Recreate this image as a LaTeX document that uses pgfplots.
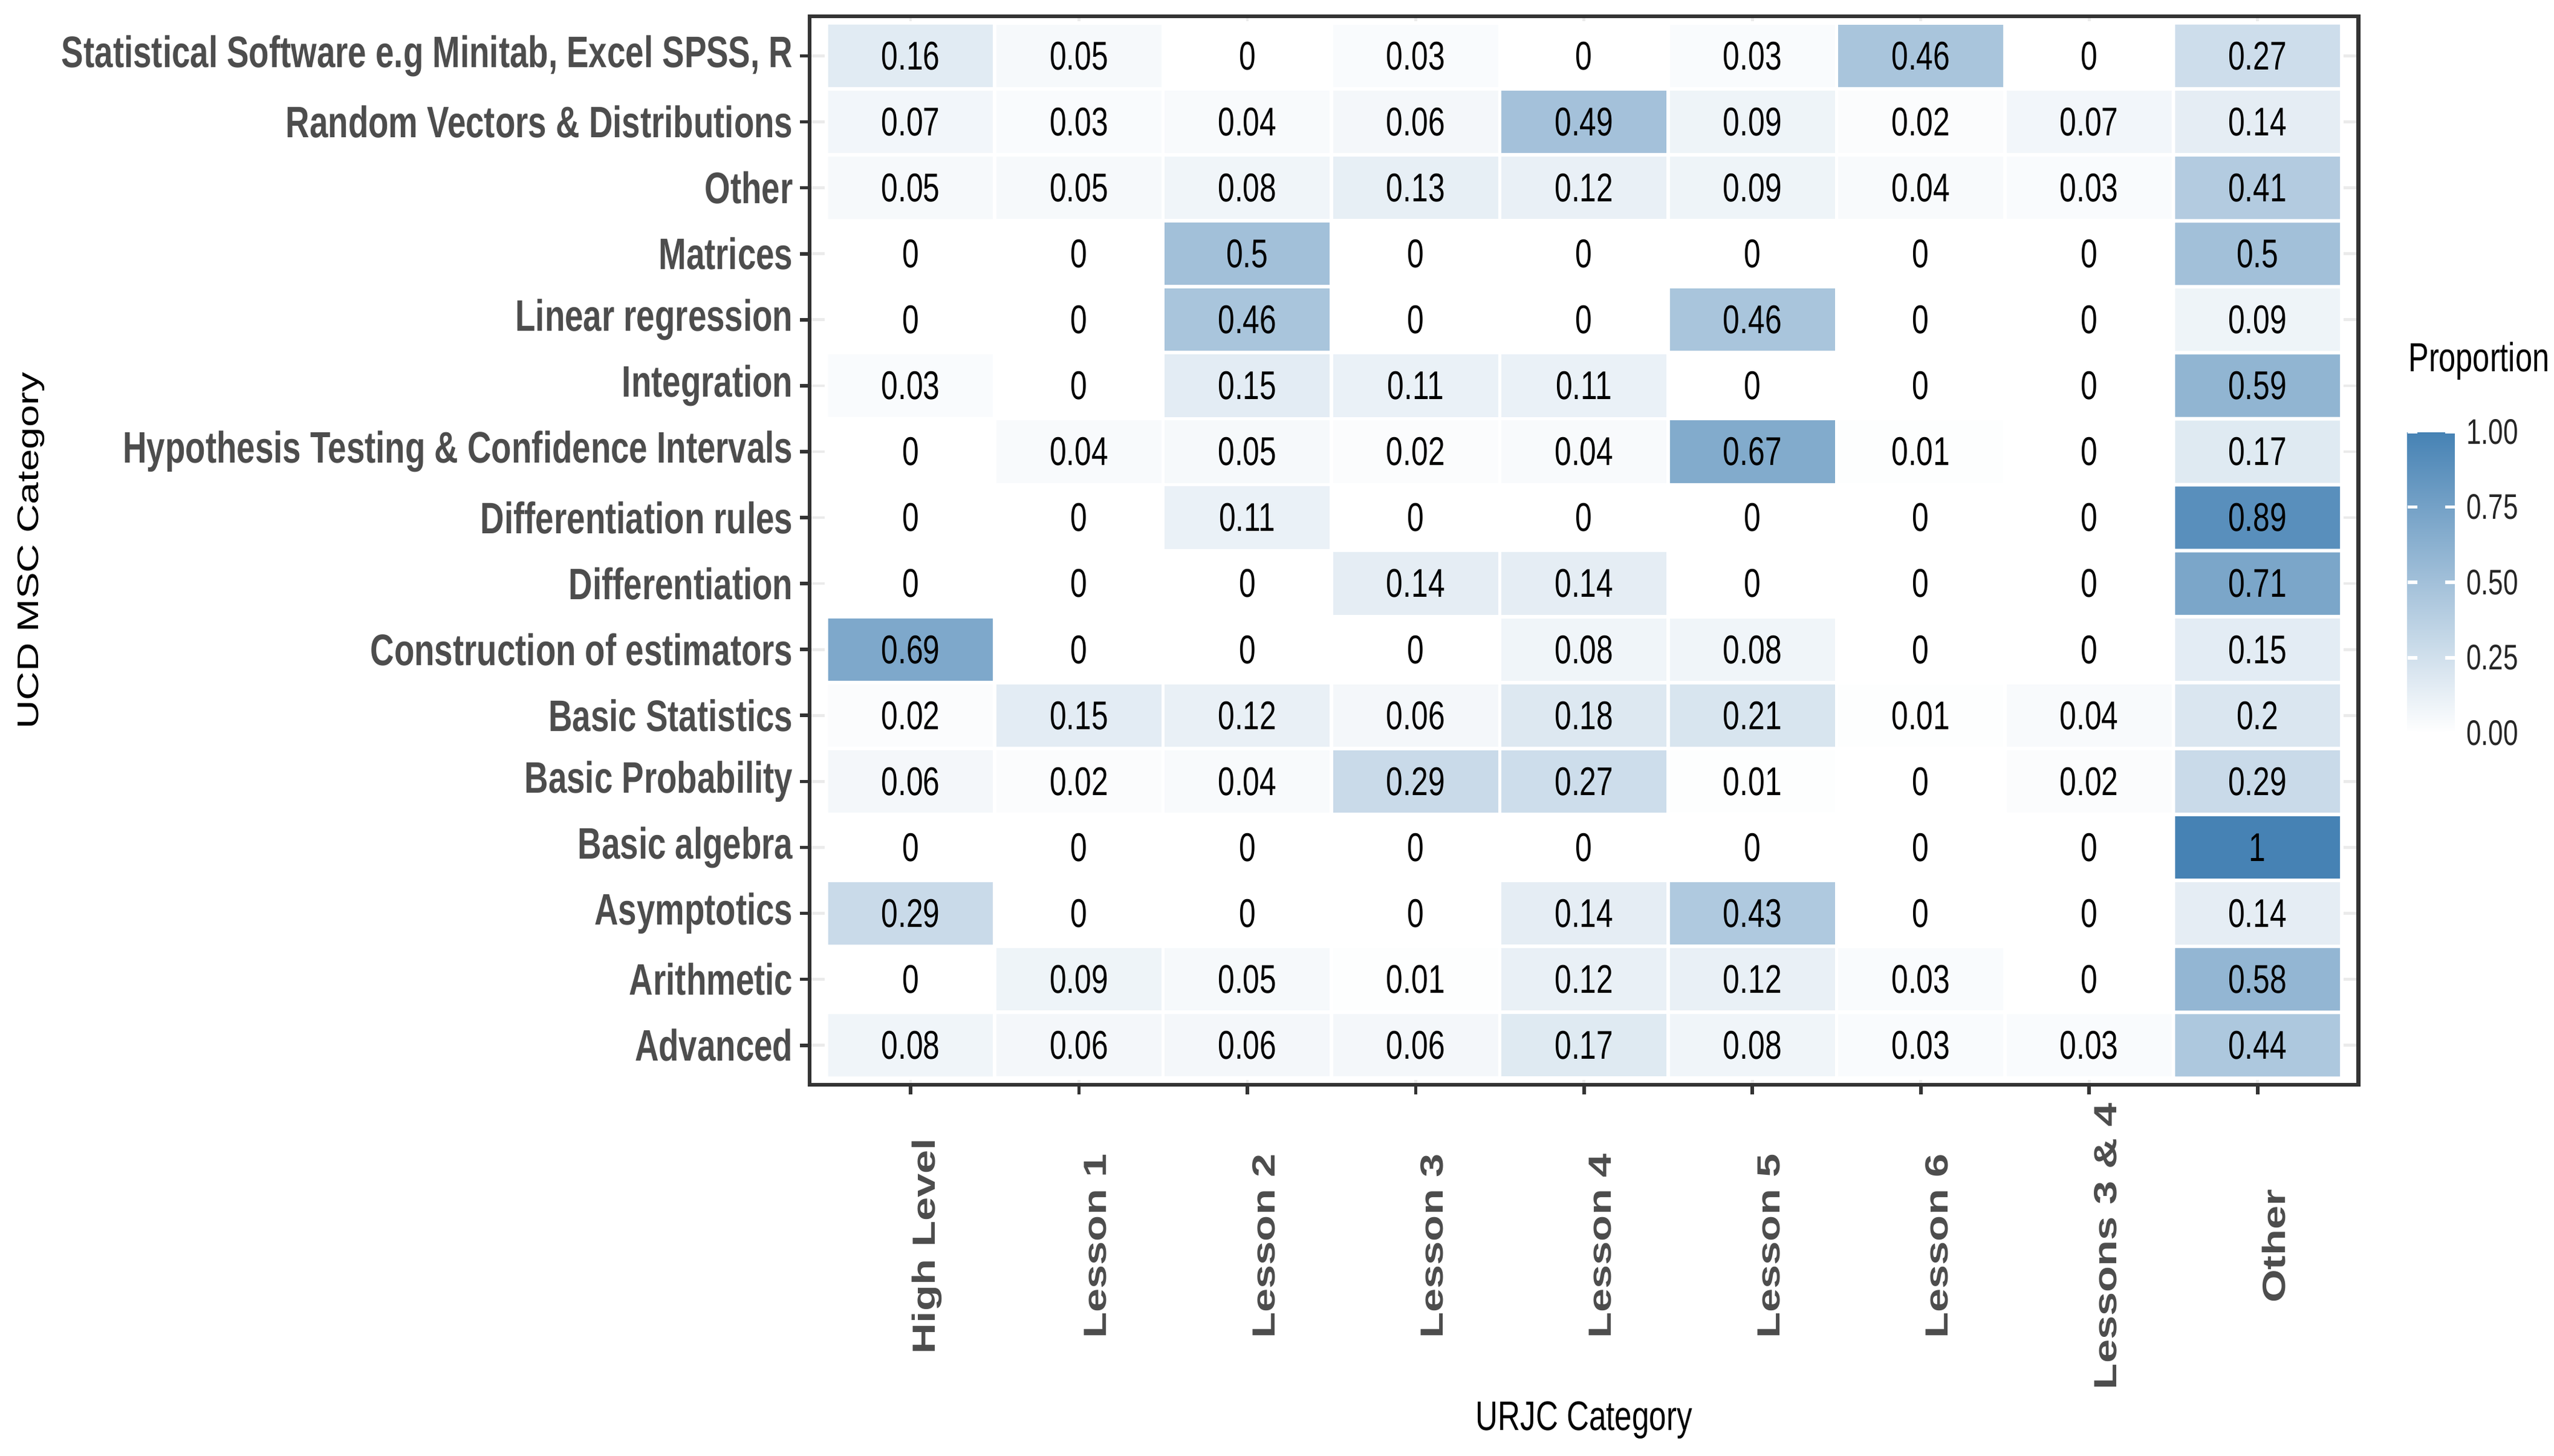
\documentclass[border=0pt]{standalone}
\usepackage{fontspec}
\setmainfont{Liberation Sans}
% the reference is stretched vertically: squeeze horizontal text, widen rotated text
\newfontfamily\hfont[FakeStretch=0.75]{Liberation Sans}
\newfontfamily\vfont[FakeStretch=1.33]{Liberation Sans}
\usepackage{pgfplots}
\usepackage{pgfplotstable}
\pgfplotsset{compat=1.18}
\definecolor{gridgrey}{HTML}{EBEBEB}
\definecolor{labgrey}{HTML}{4D4D4D}
\definecolor{framegrey}{HTML}{333333}

% x = URJC category (0 High Level ... 8 Other), y = UCD MSC category (0 Advanced ... 15 Statistical Software)
\pgfplotstableread[row sep=\\]{
x y v\\
0 0 0.08\\ 1 0 0.06\\ 2 0 0.06\\ 3 0 0.06\\ 4 0 0.17\\ 5 0 0.08\\ 6 0 0.03\\ 7 0 0.03\\ 8 0 0.44\\
0 1 0\\ 1 1 0.09\\ 2 1 0.05\\ 3 1 0.01\\ 4 1 0.12\\ 5 1 0.12\\ 6 1 0.03\\ 7 1 0\\ 8 1 0.58\\
0 2 0.29\\ 1 2 0\\ 2 2 0\\ 3 2 0\\ 4 2 0.14\\ 5 2 0.43\\ 6 2 0\\ 7 2 0\\ 8 2 0.14\\
0 3 0\\ 1 3 0\\ 2 3 0\\ 3 3 0\\ 4 3 0\\ 5 3 0\\ 6 3 0\\ 7 3 0\\ 8 3 1\\
0 4 0.06\\ 1 4 0.02\\ 2 4 0.04\\ 3 4 0.29\\ 4 4 0.27\\ 5 4 0.01\\ 6 4 0\\ 7 4 0.02\\ 8 4 0.29\\
0 5 0.02\\ 1 5 0.15\\ 2 5 0.12\\ 3 5 0.06\\ 4 5 0.18\\ 5 5 0.21\\ 6 5 0.01\\ 7 5 0.04\\ 8 5 0.2\\
0 6 0.69\\ 1 6 0\\ 2 6 0\\ 3 6 0\\ 4 6 0.08\\ 5 6 0.08\\ 6 6 0\\ 7 6 0\\ 8 6 0.15\\
0 7 0\\ 1 7 0\\ 2 7 0\\ 3 7 0.14\\ 4 7 0.14\\ 5 7 0\\ 6 7 0\\ 7 7 0\\ 8 7 0.71\\
0 8 0\\ 1 8 0\\ 2 8 0.11\\ 3 8 0\\ 4 8 0\\ 5 8 0\\ 6 8 0\\ 7 8 0\\ 8 8 0.89\\
0 9 0\\ 1 9 0.04\\ 2 9 0.05\\ 3 9 0.02\\ 4 9 0.04\\ 5 9 0.67\\ 6 9 0.01\\ 7 9 0\\ 8 9 0.17\\
0 10 0.03\\ 1 10 0\\ 2 10 0.15\\ 3 10 0.11\\ 4 10 0.11\\ 5 10 0\\ 6 10 0\\ 7 10 0\\ 8 10 0.59\\
0 11 0\\ 1 11 0\\ 2 11 0.46\\ 3 11 0\\ 4 11 0\\ 5 11 0.46\\ 6 11 0\\ 7 11 0\\ 8 11 0.09\\
0 12 0\\ 1 12 0\\ 2 12 0.5\\ 3 12 0\\ 4 12 0\\ 5 12 0\\ 6 12 0\\ 7 12 0\\ 8 12 0.5\\
0 13 0.05\\ 1 13 0.05\\ 2 13 0.08\\ 3 13 0.13\\ 4 13 0.12\\ 5 13 0.09\\ 6 13 0.04\\ 7 13 0.03\\ 8 13 0.41\\
0 14 0.07\\ 1 14 0.03\\ 2 14 0.04\\ 3 14 0.06\\ 4 14 0.49\\ 5 14 0.09\\ 6 14 0.02\\ 7 14 0.07\\ 8 14 0.14\\
0 15 0.16\\ 1 15 0.05\\ 2 15 0\\ 3 15 0.03\\ 4 15 0\\ 5 15 0.03\\ 6 15 0.46\\ 7 15 0\\ 8 15 0.27\\
}\tiles

\begin{document}
\begin{tikzpicture}
\useasboundingbox (0,0) rectangle (15.68,8.935);
\begin{axis}[
  at={(4.97cm,2.275cm)}, anchor=south west,
  scale only axis, width=9.51cm, height=6.56cm,
  xmin=-0.6, xmax=8.6, ymin=-0.6, ymax=15.6,
  xtick={0,...,8}, ytick={0,...,15},
  xticklabels={High Level, Lesson 1, Lesson 2, Lesson 3, Lesson 4, Lesson 5, Lesson 6, Lessons 3 \& 4, Other},
  yticklabels={Advanced, Arithmetic, Asymptotics, Basic algebra, Basic Probability, Basic Statistics,
    Construction of estimators, Differentiation, Differentiation rules,
    Hypothesis Testing \& Confidence Intervals, Integration, Linear regression, Matrices, Other,
    Random Vectors \& Distributions, {Statistical Software e.g Minitab, Excel SPSS, R}},
  xtick pos=bottom, ytick pos=left, tick align=outside,
  major tick length=0.06cm,
  tick style={color=framegrey, line width=0.6pt},
  axis line style={color=framegrey, line width=0.7pt},
  grid=major, major grid style={color=gridgrey, line width=0.5pt},
  yticklabel style={font=\hfont\bfseries\fontsize{7.7}{9}\selectfont, text=labgrey, inner sep=1pt},
  xticklabel style={font=\vfont\bfseries\fontsize{5.6}{7}\selectfont, text=labgrey,
    yshift=-0.93cm, xshift=0.1cm, rotate=90, anchor=center},
  xlabel={URJC Category},
  xlabel style={font=\hfont\fontsize{7.2}{9}\selectfont, at={(axis description cs:0.5,-0.314)}, anchor=center},
  ylabel={UCD MSC Category},
  ylabel style={font=\vfont\fontsize{5.2}{7}\selectfont, at={(axis description cs:-0.5026,0.5)}, anchor=center},
  colormap={ggblue}{rgb255=(255,255,255) rgb255=(70,130,180)},
  point meta min=0, point meta max=1,
  colorbar,
  colorbar style={
    at={(parent axis.east)}, anchor=west, yshift=-0.195cm,
    scale only axis, width=0.29cm, height=1.85cm,
    axis on top, axis line style={draw=none},
    ytick={0,0.25,0.5,0.75,1}, yticklabels={0.00,0.25,0.50,0.75,1.00},
    ytick pos=both, yticklabel pos=right, tick align=inside,
    major tick length=0.06cm, tick style={white, line width=0.6pt},
    yticklabel style={font=\hfont\fontsize{6.2}{7}\selectfont, text=black!85, inner sep=1pt, xshift=0.03cm},
    title={Proportion},
    title style={font=\hfont\fontsize{7.1}{8}\selectfont, at={(0,1)}, anchor=south west, inner sep=0pt, yshift=0.1cm},
  },
]
\addplot[matrix plot*, mesh/cols=9, point meta=explicit, shader=faceted, faceted color=white, line width=0.6pt]
  table[x=x, y=y, meta=v] {\tiles};
\addplot[only marks, mark=text, text mark={},
  point meta=explicit symbolic, nodes near coords={\pgfplotspointmeta}, nodes near coords align=center,
  nodes near coords style={font=\hfont\fontsize{7}{8}\selectfont, text=black, inner sep=0pt}]
  table[x=x, y=y, meta=v] {\tiles};
\end{axis}
\end{tikzpicture}
\end{document}
